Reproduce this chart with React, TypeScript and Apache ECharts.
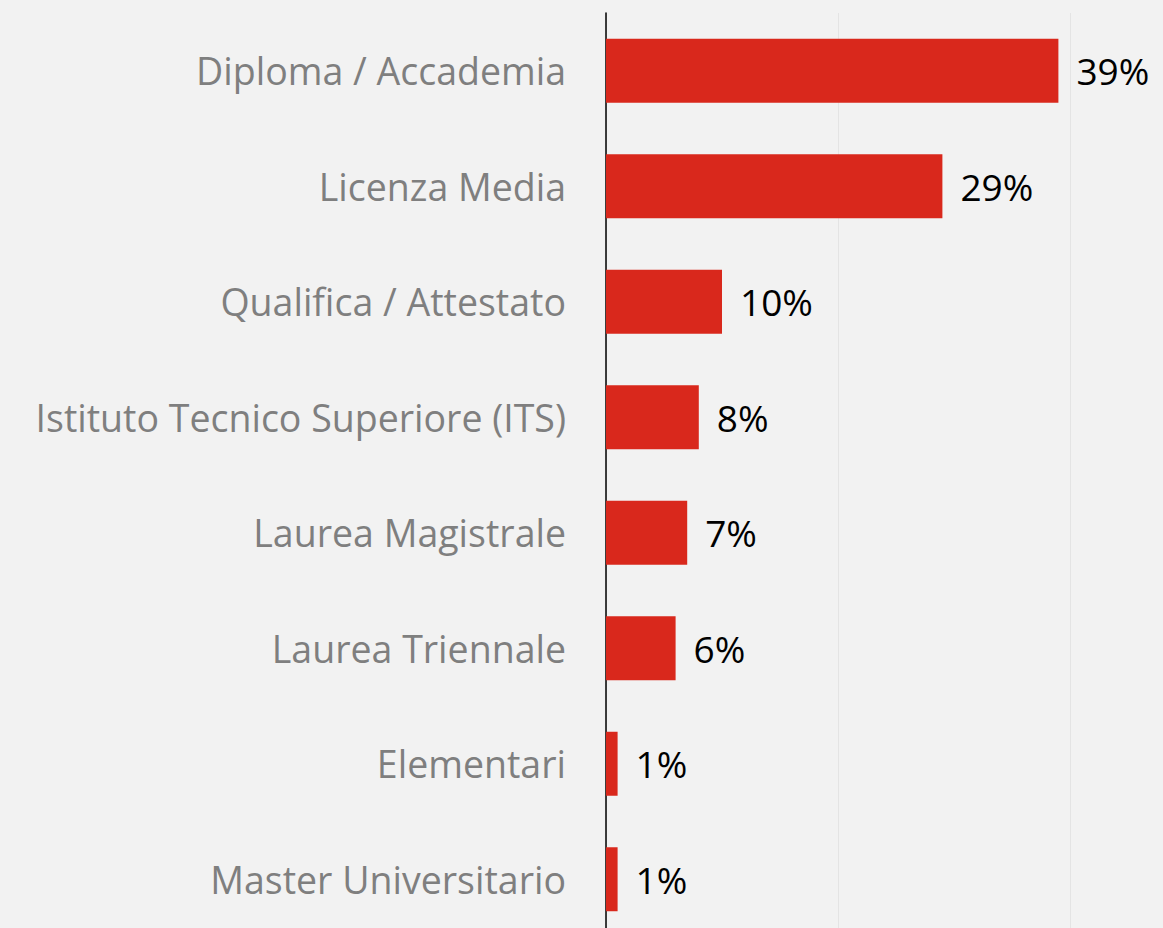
import React, { useEffect, useRef } from "react";
import * as echarts from "echarts";

const categories = [
  "Diploma / Accademia",
  "Licenza Media",
  "Qualifica / Attestato",
  "Istituto Tecnico Superiore (ITS)",
  "Laurea Magistrale",
  "Laurea Triennale",
  "Elementari",
  "Master Universitario",
];
const values = [39, 29, 10, 8, 7, 6, 1, 1];
const axisMax = 40;
const axisInterval = 20;

export default function App() {
  const ref = useRef<HTMLDivElement>(null);
  useEffect(() => {
    if (!ref.current) return;
    const chart = echarts.init(ref.current, undefined, { renderer: "svg" });
    chart.setOption({
      animation: false,
      backgroundColor: "#f2f2f2",
      textStyle: { fontFamily: "Open Sans" },
      grid: { left: 606, right: 93, top: 13, bottom: 3, containLabel: false },
      xAxis: {
        type: "value",
        min: 0,
        max: axisMax,
        interval: axisInterval,
        axisLabel: { show: false },
        axisLine: { show: false },
        axisTick: { show: false },
        splitLine: { show: true, lineStyle: { color: "#e4e4e4", width: 1 } },
      },
      yAxis: {
        type: "category",
        data: categories,
        inverse: true,
        axisLine: { show: true, lineStyle: { color: "#000", width: 1.5 } },
        axisTick: { show: false },
        axisLabel: {
          color: "#7f7f7f",
          fontSize: 37.5,
          fontFamily: "Open Sans",
          margin: 40,
        },
      },
      series: [
        {
          type: "bar",
          data: values,
          barWidth: 64,
          itemStyle: { color: "#d9281c" },
          label: {
            show: true,
            position: "right",
            distance: 18,
            formatter: "{c}%",
            color: "#000",
            fontSize: 37,
            fontFamily: "Open Sans",
          },
        },
      ],
    });
    return () => chart.dispose();
  }, []);
  return (
    <div
      ref={ref}
      style={{ position: "fixed", left: 0, top: 0, width: 1163, height: 940, background: "#f2f2f2" }}
    />
  );
}
